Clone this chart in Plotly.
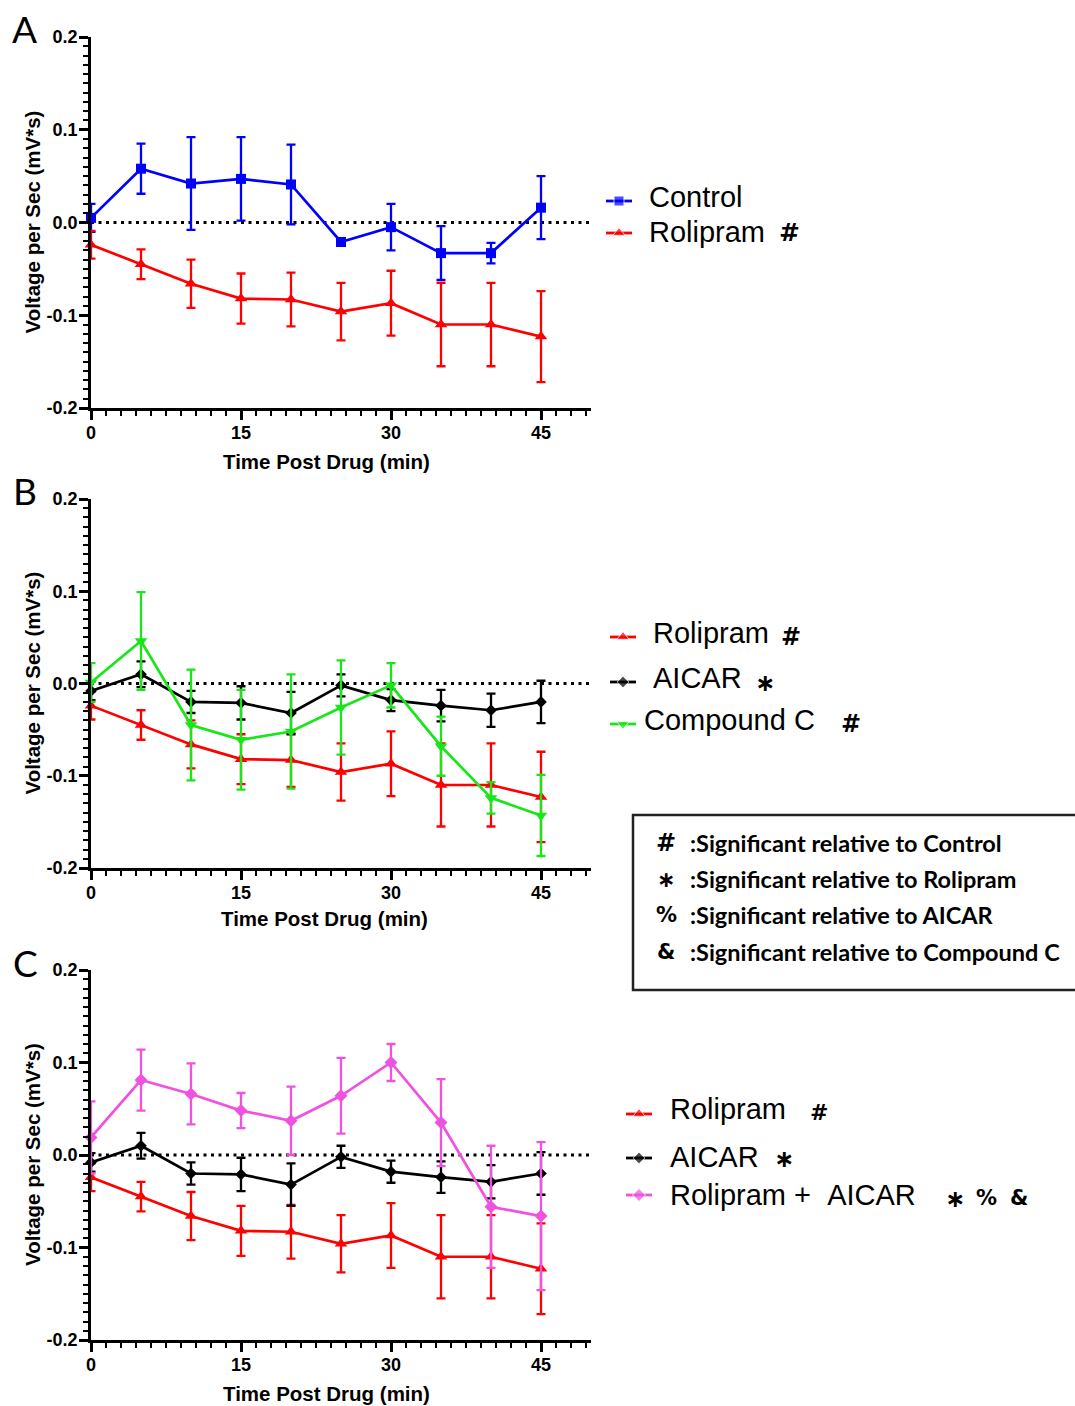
import plotly.graph_objects as go

# ---------------- data ----------------
time_min = [0, 5, 10, 15, 20, 25, 30, 35, 40, 45]

control_mean = [0.005, 0.058, 0.042, 0.047, 0.041, -0.021, -0.005, -0.033, -0.033, 0.016]
control_sem = [0.015, 0.027, 0.050, 0.045, 0.043, 0.003, 0.025, 0.029, 0.011, 0.034]

rolipram_mean = [-0.024, -0.045, -0.066, -0.082, -0.083, -0.096, -0.087, -0.110, -0.110, -0.123]
rolipram_sem = [0.015, 0.016, 0.026, 0.027, 0.029, 0.031, 0.035, 0.045, 0.045, 0.049]

aicar_mean = [-0.008, 0.010, -0.020, -0.021, -0.032, -0.002, -0.018, -0.024, -0.029, -0.020]
aicar_sem = [0.010, 0.014, 0.012, 0.018, 0.023, 0.012, 0.012, 0.017, 0.018, 0.023]

compc_mean = [0.001, 0.046, -0.045, -0.061, -0.052, -0.026, -0.002, -0.068, -0.124, -0.143]
compc_sem = [0.021, 0.053, 0.060, 0.054, 0.062, 0.051, 0.024, 0.032, 0.017, 0.044]

combo_mean = [0.019, 0.081, 0.066, 0.048, 0.037, 0.064, 0.100, 0.035, -0.056, -0.066]
combo_sem = [0.039, 0.033, 0.033, 0.019, 0.037, 0.041, 0.020, 0.047, 0.066, 0.080]

x_tick_vals = [0, 15, 30, 45]
x_tick_labels = ["0", "15", "30", "45"]
y_tick_vals = [-0.2, -0.1, 0.0, 0.1, 0.2]
y_tick_labels = ["-0.2", "-0.1", "0.0", "0.1", "0.2"]

panel_letters = ["A", "B", "C"]
x_title = "Time Post Drug (min)"
y_title = "Voltage per Sec (mV*s)"

sig_symbols = ["#", "\u2217", "%", "&"]
sig_texts = [":Significant relative to Control",
             ":Significant relative to Rolipram",
             ":Significant relative to AICAR",
             ":Significant relative to Compound C"]

# ---------------- styles ----------------
W, H = 1075, 1406
BLUE = "#0000ff"
RED = "#ff0000"
BLACK = "#000000"
GREEN = "#19e619"
MAGENTA = "#f052e0"

series_style = {
    "Control": dict(color=BLUE, symbol="square", size=10),
    "Rolipram": dict(color=RED, symbol="triangle-up", size=11),
    "AICAR": dict(color=BLACK, symbol="diamond", size=9),
    "Compound C": dict(color=GREEN, symbol="triangle-down", size=11),
    "Rolipram + AICAR": dict(color=MAGENTA, symbol="diamond", size=10),
}

series_data = {
    "Control": (control_mean, control_sem),
    "Rolipram": (rolipram_mean, rolipram_sem),
    "AICAR": (aicar_mean, aicar_sem),
    "Compound C": (compc_mean, compc_sem),
    "Rolipram + AICAR": (combo_mean, combo_sem),
}

panels = [
    ["Control", "Rolipram"],
    ["Rolipram", "AICAR", "Compound C"],
    ["Rolipram", "AICAR", "Rolipram + AICAR"],
]

# pixel layout of the three plot areas
plot_left, plot_right = 91, 591
plot_tops = [37, 499, 970]
plot_bottoms = [408, 868, 1340]
letter_pos = [(24, 29), (25, 491), (25, 962)]
x_title_pos = [(326, 461), (324, 918), (326, 1393)]
y_title_x = 32


def px(x):
    return x / W


def py(y):
    return 1 - y / H


TICK_FONT = dict(family="Liberation Sans, Arial", size=18, color="black", weight="bold")
TITLE_FONT = dict(family="Liberation Sans, Arial", size=20.5, color="black", weight="bold")

fig = go.Figure()
shapes = []
annotations = []

for i, names in enumerate(panels):
    ax = "" if i == 0 else str(i + 1)
    for name in names:
        mean, sem = series_data[name]
        st = series_style[name]
        fig.add_trace(go.Scatter(
            x=time_min, y=mean,
            mode="lines+markers",
            line=dict(color=st["color"], width=2.7),
            marker=dict(symbol=st["symbol"], size=st["size"], color=st["color"]),
            error_y=dict(type="data", array=sem, visible=True, color=st["color"],
                         thickness=2.3, width=4.5),
            cliponaxis=False, showlegend=False, hoverinfo="skip",
            xaxis="x" + ax, yaxis="y" + ax, name=name,
        ))
    # dotted zero reference line
    shapes.append(dict(type="line", xref="x" + ax, yref="y" + ax,
                       x0=0, x1=50, y0=0, y1=0, layer="below",
                       line=dict(color="black", width=3, dash="3px,4.5px")))

    xa = dict(
        domain=[px(plot_left), px(plot_right)],
        anchor="y" + ax, range=[0, 50],
        tickmode="array", tickvals=x_tick_vals,
        ticktext=["<b>%s</b>" % t for t in x_tick_labels],
        ticks="outside", ticklen=9, tickwidth=2.5, tickcolor="black",
        minor=dict(tickmode="linear", tick0=0, dtick=1.5, ticks="outside",
                   ticklen=5, tickwidth=2, tickcolor="black", showgrid=False),
        showline=True, linewidth=2.8, linecolor="black",
        showgrid=False, zeroline=False, tickfont=TICK_FONT,
        ticklabelstandoff=-3,
        automargin=False, fixedrange=True,
    )
    ya = dict(
        domain=[py(plot_bottoms[i]), py(plot_tops[i])],
        anchor="x" + ax, range=[-0.2, 0.2],
        tickmode="array", tickvals=y_tick_vals,
        ticktext=["<b>%s</b>" % t for t in y_tick_labels],
        ticks="outside", ticklen=9, tickwidth=2.5, tickcolor="black",
        minor=dict(tickmode="linear", tick0=0, dtick=0.01, ticks="outside",
                   ticklen=5, tickwidth=2, tickcolor="black", showgrid=False),
        showline=True, linewidth=2.8, linecolor="black",
        showgrid=False, zeroline=False, tickfont=TICK_FONT,
        ticklabelstandoff=-2,
        automargin=False, fixedrange=True,
    )
    fig.layout["xaxis" + ax] = xa
    fig.layout["yaxis" + ax] = ya

    # axis titles
    tx, ty = x_title_pos[i]
    annotations.append(dict(text=x_title, xref="paper", yref="paper",
                            x=px(tx), y=py(ty), xanchor="center", yanchor="middle",
                            showarrow=False, font=TITLE_FONT))
    annotations.append(dict(text=y_title, xref="paper", yref="paper",
                            x=px(y_title_x), y=py((plot_tops[i] + plot_bottoms[i]) / 2),
                            xanchor="center", yanchor="middle", textangle=-90,
                            showarrow=False, font=TITLE_FONT))

    lx, ly = letter_pos[i]
    annotations.append(dict(text=panel_letters[i], xref="paper", yref="paper",
                            x=px(lx), y=py(ly), xanchor="center", yanchor="middle",
                            showarrow=False,
                            font=dict(family="Lato, Open Sans", size=37, color="black")))

# ---------------- custom legends ----------------
# (name, line x0, line x1, line y, text x, text y)
legend_items = [
    ("Control", 606, 632, 201, 647, 197),
    ("Rolipram", 606, 632, 233, 647, 232),
    ("Rolipram", 610, 636, 637, 651, 633),
    ("AICAR", 610, 636, 682, 651, 678),
    ("Compound C", 610, 636, 724, 642, 720),
    ("Rolipram", 626, 652, 1114, 668, 1109),
    ("AICAR", 626, 652, 1158, 668, 1157),
    ("Rolipram + AICAR", 626, 652, 1195, 668, 1195),
]
# (mark, center x, center y, size)
legend_marks = [
    ("#", 789, 232, 25),
    ("#", 791, 637, 24),
    ("\u2217", 765, 683, 24),
    ("#", 851, 724, 24),
    ("#", 819, 1112, 22),
    ("\u2217", 784, 1159, 24),
    ("\u2217", 955, 1199, 24),
    ("%", 986, 1198, 21),
    ("&", 1019, 1198, 21),
]

for name, x0, x1, ly, tx, ty in legend_items:
    st = series_style[name]
    fig.add_trace(go.Scatter(
        x=[x0, (x0 + x1) / 2, x1], y=[ly, ly, ly], mode="lines+markers",
        line=dict(color=st["color"], width=2.8),
        marker=dict(symbol=st["symbol"], size=[0, st["size"], 0], color=st["color"]),
        cliponaxis=False, showlegend=False, hoverinfo="skip",
        xaxis="x4", yaxis="y4",
    ))
    label = name.replace("+ ", "+\u00a0\u00a0")
    annotations.append(dict(text=label, xref="paper", yref="paper",
                            x=px(tx), y=py(ty), xanchor="left", yanchor="middle",
                            showarrow=False,
                            font=dict(family="Liberation Sans, Arial", size=29, color="black")))

for mark, mx, my, ms in legend_marks:
    annotations.append(dict(text=mark, xref="paper", yref="paper",
                            x=px(mx), y=py(my), xanchor="center", yanchor="middle",
                            showarrow=False,
                            font=dict(family="DejaVu Sans", size=ms, color="black", weight="bold")))

# significance key box
shapes.append(dict(type="rect", xref="paper", yref="paper",
                   x0=px(633), x1=px(1080), y0=py(990), y1=py(815),
                   line=dict(color="#222222", width=2.5), fillcolor="rgba(0,0,0,0)"))
sig_rows_y = [843, 879, 915, 952]
sig_sym_sizes = [24, 22, 21, 21]
for sym, txt, ry, ss in zip(sig_symbols, sig_texts, sig_rows_y, sig_sym_sizes):
    annotations.append(dict(text=sym, xref="paper", yref="paper",
                            x=px(666), y=py(ry), xanchor="center", yanchor="middle",
                            showarrow=False,
                            font=dict(family="DejaVu Sans", size=ss, color="black", weight="bold")))
    annotations.append(dict(text=txt, xref="paper", yref="paper",
                            x=px(688), y=py(ry), xanchor="left", yanchor="middle",
                            showarrow=False,
                            font=dict(family="Lato", size=23.5, color="black", weight="bold")))

fig.layout["xaxis4"] = dict(domain=[0, 1], range=[0, W], visible=False,
                            anchor="y4", fixedrange=True)
fig.layout["yaxis4"] = dict(domain=[0, 1], range=[H, 0], visible=False,
                            anchor="x4", fixedrange=True)

fig.update_layout(
    width=W, height=H,
    margin=dict(l=0, r=0, t=0, b=0),
    paper_bgcolor="white",
    plot_bgcolor="rgba(0,0,0,0)",
    shapes=shapes,
    annotations=annotations,
    showlegend=False,
)

fig.write_html("out.html", include_plotlyjs=True, config={"displayModeBar": False})
